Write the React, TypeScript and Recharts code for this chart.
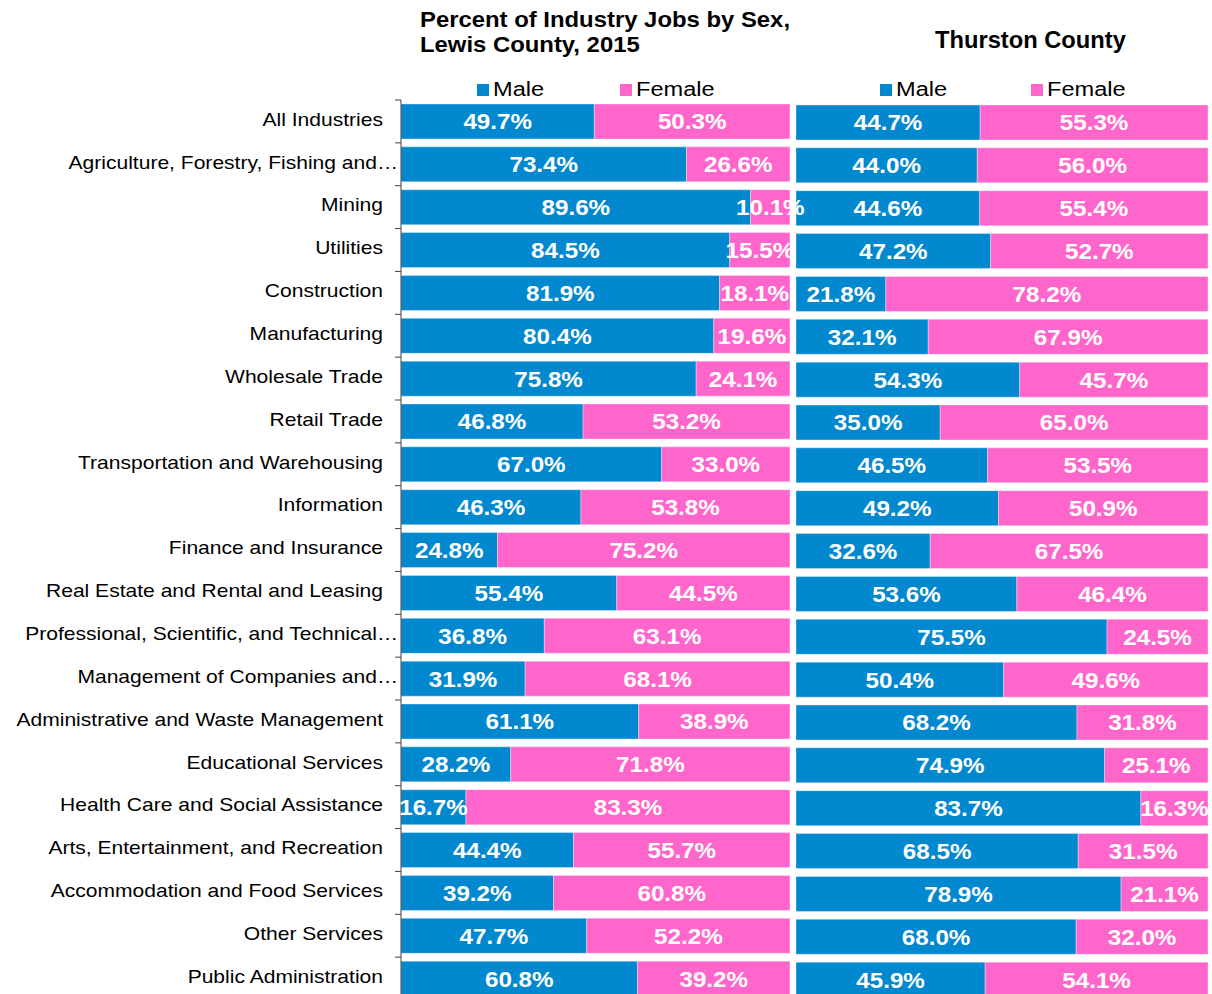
import React from 'react';
import {BarChart, Bar, XAxis, YAxis, LabelList, Legend} from 'recharts';

const industries = [
  'All Industries',
  'Agriculture, Forestry, Fishing and…',
  'Mining',
  'Utilities',
  'Construction',
  'Manufacturing',
  'Wholesale Trade',
  'Retail Trade',
  'Transportation and Warehousing',
  'Information',
  'Finance and Insurance',
  'Real Estate and Rental and Leasing',
  'Professional, Scientific, and Technical…',
  'Management of Companies and…',
  'Administrative and Waste Management',
  'Educational Services',
  'Health Care and Social Assistance',
  'Arts, Entertainment, and Recreation',
  'Accommodation and Food Services',
  'Other Services',
  'Public Administration',
];

const lewisMale = [49.7, 73.4, 89.6, 84.5, 81.9, 80.4, 75.8, 46.8, 67.0, 46.3, 24.8, 55.4, 36.8, 31.9, 61.1, 28.2, 16.7, 44.4, 39.2, 47.7, 60.8];
const lewisFemale = [50.3, 26.6, 10.1, 15.5, 18.1, 19.6, 24.1, 53.2, 33.0, 53.8, 75.2, 44.5, 63.1, 68.1, 38.9, 71.8, 83.3, 55.7, 60.8, 52.2, 39.2];
const thurstonMale = [44.7, 44.0, 44.6, 47.2, 21.8, 32.1, 54.3, 35.0, 46.5, 49.2, 32.6, 53.6, 75.5, 50.4, 68.2, 74.9, 83.7, 68.5, 78.9, 68.0, 45.9];
const thurstonFemale = [55.3, 56.0, 55.4, 52.7, 78.2, 67.9, 45.7, 65.0, 53.5, 50.9, 67.5, 46.4, 24.5, 49.6, 31.8, 25.1, 16.3, 31.5, 21.1, 32.0, 54.1];

const seriesOrder = ['Male', 'Female'];

const lewisData = industries.map((name, i) => ({name, male: lewisMale[i], female: lewisFemale[i]}));
const thurstonData = industries.map((name, i) => ({name, male: thurstonMale[i], female: thurstonFemale[i]}));

const BLUE = '#0288CE';
const PINK = '#FF66CC';
const FONT = "'Liberation Sans', Arial, sans-serif";
const PLOT_H = 900;
const BAND = PLOT_H / industries.length;

function IndustryTick(props: any) {
  const {x, y, payload} = props;
  const label: string = payload.value;
  const axisX = x + 8;
  const tx = label.endsWith('…') ? axisX - 3 : axisX - 18;
  const last = payload.index === industries.length - 1;
  return (
    <g>
      <line x1={axisX - 6} x2={axisX} y1={y - BAND / 2} y2={y - BAND / 2} stroke="#404040" />
      {last && <line x1={axisX - 6} x2={axisX} y1={y + BAND / 2} y2={y + BAND / 2} stroke="#404040" />}
      <text
        transform={`translate(${tx} ${y - 2}) scale(1.17 1)`}
        textAnchor="end"
        dy="0.35em"
        fontSize={18}
        fill="#000"
        fontFamily={FONT}>
        {label}
      </text>
    </g>
  );
}

function BarValue(props: any) {
  const vb = props.viewBox || props;
  const cx = vb.x + vb.width / 2;
  const cy = vb.y + vb.height / 2;
  return (
    <text
      transform={`translate(${cx} ${cy}) scale(1.1 1)`}
      textAnchor="middle"
      dy="0.36em"
      fill="#fff"
      fontWeight="bold"
      fontSize={22}
      fontFamily={FONT}>
      {`${Number(props.value).toFixed(1)}%`}
    </text>
  );
}

function LegendRow({payload, xs}: any) {
  const items = [...(payload || [])].sort(
    (a: any, b: any) => seriesOrder.indexOf(a.value) - seriesOrder.indexOf(b.value),
  );
  return (
    <div style={{position: 'relative', height: 24, fontFamily: FONT}}>
      {items.map((p: any, i: number) => (
        <div key={p.value} style={{position: 'absolute', left: xs[i], top: 0, height: 24}}>
          <span style={{position: 'absolute', left: 0, top: 7, width: 12, height: 12, background: p.color}} />
          <span
            style={{
              position: 'absolute',
              left: 16,
              top: 0,
              fontSize: 20,
              lineHeight: '24px',
              whiteSpace: 'nowrap',
              transform: 'scaleX(1.18)',
              transformOrigin: 'left center',
            }}>
            {p.value}
          </span>
        </div>
      ))}
    </div>
  );
}

const titleStyle: React.CSSProperties = {
  position: 'absolute',
  fontFamily: FONT,
  fontWeight: 'bold',
  color: '#000',
  whiteSpace: 'nowrap',
  transformOrigin: 'left top',
};

function Panel({data, width, height, top, right, withAxis, legendXs}: any) {
  return (
    <BarChart
      layout="vertical"
      stackOffset="expand"
      data={data}
      width={width}
      height={height}
      margin={{top, right, bottom: 2, left: 0}}>
      <XAxis type="number" hide domain={[0, 1]} />
      {withAxis ? (
        <YAxis
          type="category"
          dataKey="name"
          width={401}
          interval={0}
          tickLine={false}
          axisLine={{stroke: '#404040'}}
          tick={<IndustryTick />}
        />
      ) : (
        <YAxis type="category" dataKey="name" hide />
      )}
      <Legend
        verticalAlign="middle"
        layout="horizontal"
        wrapperStyle={{top: 77, left: 0, width, height: 24}}
        content={(p: any) => <LegendRow payload={p.payload} xs={legendXs} />}
      />
      <Bar
        dataKey="male"
        name="Male"
        stackId="a"
        fill={BLUE}
        barSize={35}
        stroke="#ffffff"
        strokeOpacity={0.35}
        isAnimationActive={false}>
        <LabelList dataKey="male" content={<BarValue />} />
      </Bar>
      <Bar
        dataKey="female"
        name="Female"
        stackId="a"
        fill={PINK}
        barSize={35}
        stroke="#ffffff"
        strokeOpacity={0.35}
        isAnimationActive={false}>
        <LabelList dataKey="female" content={<BarValue />} />
      </Bar>
    </BarChart>
  );
}

export default function App() {
  return (
    <div
      style={{
        position: 'absolute',
        left: 0,
        top: 0,
        width: 1212,
        height: 994,
        overflow: 'hidden',
        background: '#fff',
      }}>
      <div style={{position: 'absolute', left: 796, top: 0}}>
        <Panel
          data={thurstonData}
          width={412}
          height={1003}
          top={101}
          right={0}
          withAxis={false}
          legendXs={[84, 235]}
        />
      </div>
      <div style={{position: 'absolute', left: 0, top: 0}}>
        <Panel
          data={lewisData}
          width={812}
          height={1002}
          top={100}
          right={22}
          withAxis
          legendXs={[477, 620]}
        />
      </div>
      <div
        style={{
          ...titleStyle,
          left: 420,
          top: 8,
          fontSize: 21.5,
          lineHeight: '25px',
          transform: 'scaleX(1.11)',
        }}>
        Percent of Industry Jobs by Sex,
        <br />
        Lewis County, 2015
      </div>
      <div
        style={{
          ...titleStyle,
          left: 935,
          top: 28,
          fontSize: 23,
          lineHeight: '24px',
          transform: 'scaleX(1.03)',
        }}>
        Thurston County
      </div>
    </div>
  );
}
